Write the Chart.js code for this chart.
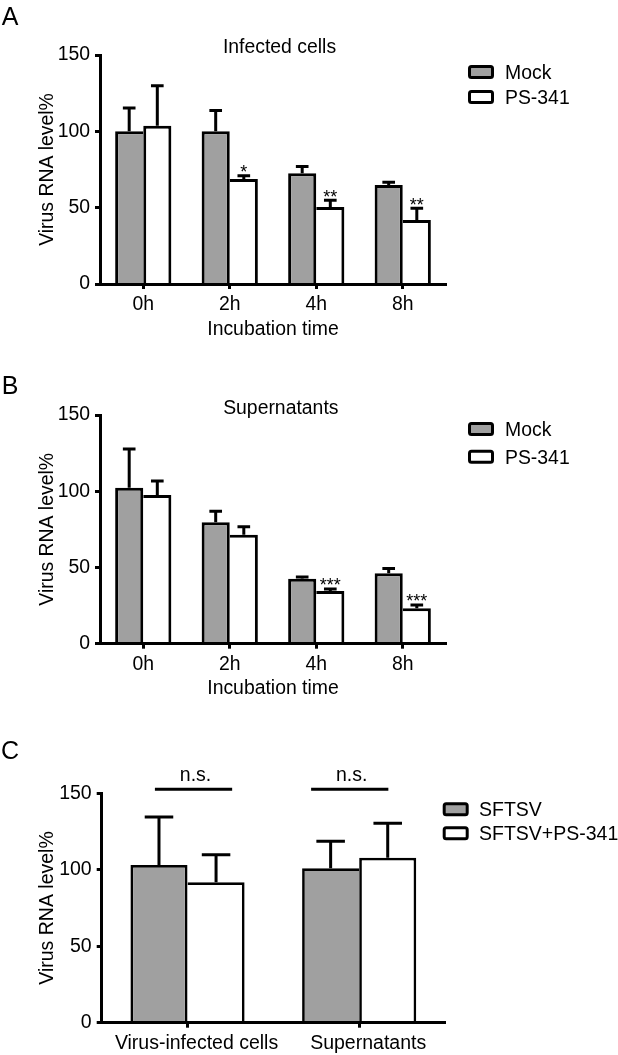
<!DOCTYPE html>
<html><head><meta charset="utf-8">
<script src="https://cdn.jsdelivr.net/npm/chart.js@4.4.1/dist/chart.umd.min.js"></script>
<style>
html,body{margin:0;padding:0;background:#fff;}
#wrap{position:relative;width:618px;height:1055px;overflow:hidden;}
canvas{position:absolute;left:0;}
</style></head><body>
<div id="wrap">
<canvas id="cA" width="618" height="350" style="top:0px;width:618px;height:350px"></canvas>
<canvas id="cB" width="618" height="350" style="top:350px;width:618px;height:350px"></canvas>
<canvas id="cC" width="618" height="355" style="top:700px;width:618px;height:355px"></canvas>
</div>
<script>
// ---------- data ----------
const timeLabels = ['0h', '2h', '4h', '8h'];
const groupLabels = ['Virus-infected cells', 'Supernatants'];
const seriesAB = ['Mock', 'PS-341'];
const seriesC = ['SFTSV', 'SFTSV+PS-341'];
const yTicks = [0, 50, 100, 150];

// Panel A: infected cells
const mockA    = [100, 100, 72.5, 64.8];
const mockErrA = [15.3, 13.7, 4.5, 1.8];
const psA      = [103.7, 68.8, 50.4, 41.9];
const psErrA   = [26.2, 2.1, 4.4, 7.7];
const sigA     = ['', '*', '**', '**'];

// Panel B: supernatants
const mockB    = [102.3, 79.6, 42.6, 46.2];
const mockErrB = [25.4, 7.2, 1.1, 3.2];
const psB      = [97.5, 71.5, 34.6, 23.2];
const psErrB   = [9.2, 5.2, 1.3, 2.2];
const sigB     = ['', '', '***', '***'];

// Panel C
const sftsvC    = [103.1, 101.0];
const sftsvErrC = [31.4, 17.6];
const psC       = [91.8, 107.9];
const psErrC    = [18.1, 22.5];
const nsFrom  = [-0.19, 0.72];
const nsTo    = [0.26, 1.17];
const nsLevel = 152.6;
const nsText  = ['n.s.', 'n.s.'];

// ---------- style ----------
const FONT = '"Liberation Sans", Arial, Helvetica, sans-serif';
const GRAY = '#a0a0a0';

const errorBars = {
  id: 'errorBars',
  afterDatasetsDraw(chart, args, o) {
    const ctx = chart.ctx, ys = chart.scales.y;
    ctx.save();
    chart.data.datasets.forEach((ds, i) => {
      const meta = chart.getDatasetMeta(i);
      meta.data.forEach((bar, j) => {
        const top = ys.getPixelForValue(ds.data[j] + ds.errors[j]);
        const half = bar.width * o.cap / 2;
        ctx.strokeStyle = '#000'; ctx.lineWidth = o.lw; ctx.lineCap = 'butt';
        ctx.beginPath();
        ctx.moveTo(bar.x, bar.y); ctx.lineTo(bar.x, top);
        ctx.moveTo(bar.x - half, top); ctx.lineTo(bar.x + half, top);
        ctx.stroke();
        if (ds.sig && ds.sig[j]) {
          ctx.fillStyle = '#000';
          ctx.font = '18px ' + FONT;
          ctx.textAlign = 'center'; ctx.textBaseline = 'alphabetic';
          ctx.fillText(ds.sig[j], bar.x, top + 2.5);
        }
      });
    });
    ctx.restore();
  }
};

const deco = {
  id: 'deco',
  afterDraw(chart, args, o) {
    const ctx = chart.ctx;
    ctx.save();
    ctx.fillStyle = '#000';
    // panel letter
    ctx.font = '25px ' + FONT; ctx.textAlign = 'center'; ctx.textBaseline = 'alphabetic';
    ctx.fillText(o.letter, o.letterX, o.letterY + 0.358 * 25);
    // panel title
    if (o.title) {
      ctx.font = o.font + 'px ' + FONT; ctx.textBaseline = 'middle';
      ctx.fillText(o.title, o.titleX, o.titleY);
    }
    // legend
    chart.data.datasets.forEach((ds, i) => {
      const cy = o.legendY[i];
      ctx.beginPath();
      ctx.roundRect(o.legendX + 1.5, cy - 5.5, 23, 11, 2);
      ctx.fillStyle = ds.backgroundColor; ctx.fill();
      ctx.lineWidth = 3; ctx.strokeStyle = '#000'; ctx.stroke();
      ctx.fillStyle = '#000';
      ctx.font = o.font + 'px ' + FONT; ctx.textAlign = 'left'; ctx.textBaseline = 'alphabetic';
      ctx.fillText(ds.label, o.legendTextX, cy + 0.358 * o.font);
    });
    // significance brackets
    if (o.ns) {
      const xs = chart.scales.x, ys = chart.scales.y;
      const ly = ys.getPixelForValue(o.ns.level);
      o.ns.from.forEach((f, k) => {
        const x1 = xs.getPixelForValue(f), x2 = xs.getPixelForValue(o.ns.to[k]);
        ctx.lineWidth = 3; ctx.strokeStyle = '#000';
        ctx.beginPath(); ctx.moveTo(x1, ly); ctx.lineTo(x2, ly); ctx.stroke();
        ctx.font = o.font + 'px ' + FONT; ctx.textAlign = 'center'; ctx.textBaseline = 'middle';
        ctx.fillText(o.ns.text[k], (x1 + x2) / 2 + 2, ly - 14);
      });
    }
    ctx.restore();
  }
};

function makeChart(id, L, labels, names, s1, e1, s2, e2, sig, deco_opts) {
  const bw = L.bw;
  const d1 = s1, d2 = s2;
  const lh = L.font * 1.2;
  const cfg = {
    type: 'bar',
    data: {
      labels: labels,
      datasets: [
        { label: names[0], data: s1, errors: e1, backgroundColor: GRAY, borderColor: '#000',
          borderWidth: c => ({ top: bw, left: bw, bottom: 0, right: d1[c.dataIndex] >= d2[c.dataIndex] ? bw : 0 }),
          borderSkipped: false, categoryPercentage: L.catPct, barPercentage: 1 },
        { label: names[1], data: s2, errors: e2, sig: sig, backgroundColor: '#ffffff', borderColor: '#000',
          borderWidth: c => ({ top: bw, right: bw, bottom: 0, left: d2[c.dataIndex] > d1[c.dataIndex] ? bw : 0 }),
          borderSkipped: false, categoryPercentage: L.catPct, barPercentage: 1 }
      ]
    },
    options: {
      responsive: false, animation: false,
      layout: { padding: { top: L.area.top, left: 0, right: 618 - L.area.right, bottom: 0 } },
      plugins: {
        legend: { display: false }, tooltip: { enabled: false }, title: { display: false },
        errorBars: { cap: L.cap, lw: 3 },
        deco: deco_opts
      },
      scales: {
        x: {
          type: 'category', offset: true,
          grid: { display: true, offset: false, drawOnChartArea: false, drawTicks: true, tickLength: 5, tickWidth: 3, tickColor: '#000' },
          border: { display: true, color: '#000', width: 3, z: 1 },
          ticks: { color: '#000', font: { family: FONT, size: L.font }, padding: 4, labelOffset: L.labelOffset, maxRotation: 0, autoSkip: false },
          title: { display: !!L.xTitle, text: L.xTitle || '', color: '#000', font: { family: FONT, size: L.font },
                   padding: { top: 0, bottom: L.xTitle ? Math.max(0, L.height - L.xTitleY - lh / 2) : 0 } },
          afterFit: s => { s.height = L.height - L.area.bottom; }
        },
        y: {
          min: 0, max: 150,
          afterBuildTicks: s => { s.ticks = yTicks.map(v => ({ value: v })); },
          grid: { display: true, drawOnChartArea: false, drawTicks: true, tickLength: 5, tickWidth: 3, tickColor: '#000' },
          border: { display: true, color: '#000', width: 3, z: 1 },
          ticks: { color: '#000', font: { family: FONT, size: L.font }, padding: 5 },
          title: { display: true, text: 'Virus RNA level%', color: '#000', font: { family: FONT, size: L.font },
                   padding: { top: 48 - lh / 2, bottom: 0 } },
          afterFit: s => { s.width = L.area.left; }
        }
      }
    },
    plugins: [errorBars, deco]
  };
  return new Chart(document.getElementById(id), cfg);
}

makeChart('cA',
  { height: 350, area: { top: 55, bottom: 284, left: 100, right: 446 }, xTitle: 'Incubation time', xTitleY: 329.3,
    font: 19.4, bw: 3, cap: 0.45, catPct: 0.65, labelOffset: 0 },
  timeLabels, seriesAB, mockA, mockErrA, psA, psErrA, sigA,
  { letter: 'A', letterX: 10, letterY: 16, title: 'Infected cells', titleX: 279.5, titleY: 48,
    legendX: 468, legendTextX: 505, legendY: [72, 97], font: 19.4 });

makeChart('cB',
  { height: 350, area: { top: 65, bottom: 293.7, left: 100, right: 446 }, xTitle: 'Incubation time', xTitleY: 339.3,
    font: 19.4, bw: 3, cap: 0.45, catPct: 0.65, labelOffset: 0 },
  timeLabels, seriesAB, mockB, mockErrB, psB, psErrB, sigB,
  { letter: 'B', letterX: 10, letterY: 35, title: 'Supernatants', titleX: 280.8, titleY: 58.3,
    legendX: 468, legendTextX: 505, legendY: [79, 106.7], font: 19.4 });

makeChart('cC',
  { height: 355, area: { top: 93.3, bottom: 322.7, left: 101.7, right: 445 }, xTitle: null,
    font: 19.5, bw: 2.7, cap: 0.5, catPct: 0.665, labelOffset: 9 },
  groupLabels, seriesC, sftsvC, sftsvErrC, psC, psErrC, null,
  { letter: 'C', letterX: 10, letterY: 50, title: null,
    legendX: 442.7, legendTextX: 479, legendY: [109.3, 133.3], font: 19.5,
    ns: { from: nsFrom, to: nsTo, level: nsLevel, text: nsText } });
</script>
</body></html>
